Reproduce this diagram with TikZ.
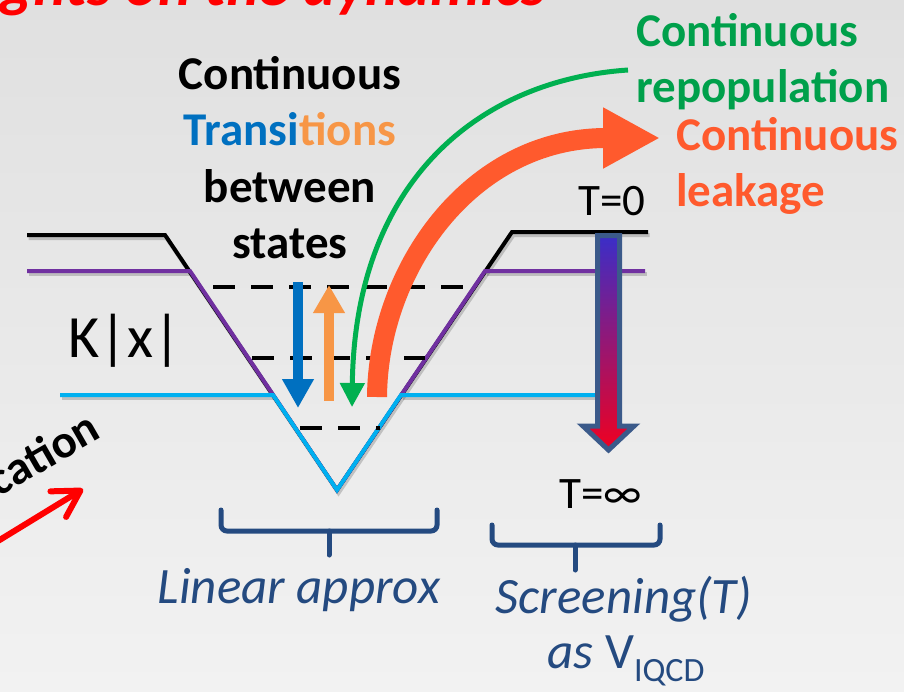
\documentclass[tikz,border=0pt]{standalone}
\usepackage{fontspec}
\setmainfont{Carlito}
\usetikzlibrary{arrows.meta}
\definecolor{wellpurple}{RGB}{112,48,160}
\definecolor{wellcyan}{RGB}{0,176,240}
\definecolor{downblue}{RGB}{0,112,192}
\definecolor{uporange}{RGB}{247,150,70}
\definecolor{repopgreen}{RGB}{0,176,80}
\definecolor{repoptext}{RGB}{0,160,75}
\definecolor{leakred}{RGB}{255,90,45}
\definecolor{notenavy}{RGB}{36,74,128}
\definecolor{screenedge}{RGB}{59,90,138}
\definecolor{screentop}{RGB}{58,46,200}
\definecolor{screenmid}{RGB}{192,0,154}
\definecolor{screenbot}{RGB}{240,0,32}
\definecolor{bgtop}{RGB}{224,224,224}
\definecolor{bgbot}{RGB}{242,242,242}

\begin{document}
\begin{tikzpicture}[
  x=1pt, y=-1pt,
  every node/.style={inner sep=0pt},
  bigtext/.style={font=\fontsize{47}{56.5}\selectfont\bfseries},
  plaintext/.style={font=\fontsize{45}{54}\selectfont},
  notetext/.style={font=\fontsize{51}{55}\selectfont\itshape,text=notenavy},
  well/.style={line width=4pt,line join=miter},
  wellshadow/.style={line width=4pt,line join=miter,black,opacity=0.18,shift={(1.5,3)}},
  statedash/.style={line width=4pt,dash pattern=on 22pt off 16pt},
  bracket/.style={draw=notenavy,line width=5pt,rounded corners=6pt,line cap=round},
]
  \useasboundingbox (0,0) rectangle (904,691);
  \clip (0,0) rectangle (904,691);
  % Background
  \shade[top color=bgtop,bottom color=bgbot] (0,0) rectangle (904,691);

  % Title (cut by the frame)
  \node[anchor=base east,font=\fontsize{62}{64}\selectfont\bfseries\itshape,text=red] (title) at (546,5) {ghts on the dynamics};

  % Potential wells
  \draw[wellshadow] (27,235) -- (165,235) -- (337,490) -- (512,232) -- (648,232);
  \draw[wellshadow] (27,271) -- (190,271);
  \draw[wellshadow] (485,271) -- (645,271);
  \draw[wellshadow] (60,395) -- (273,395);
  \draw[wellshadow] (401,395) -- (600,395);
  \draw[well,black] (27,235) -- (165,235) -- (337,490) -- (512,232) -- (648,232);
  \draw[well,wellpurple] (27,271) -- (190,271) -- (337,490) -- (485,271) -- (645,271);
  \draw[well,wellcyan] (60,395) -- (273,395) -- (337,490) -- (401,395) -- (600,395);

  % Bound states
  \draw[statedash] (213,287) -- (468,287);
  \draw[statedash] (252,358) -- (425,358);
  \draw[statedash] (300,428) -- (380,428);

  % Transitions
  \coordinate (downTop) at (298,282);
  \coordinate (downTip) at (298,408);
  \coordinate (upFoot) at (329,401);
  \coordinate (upTip) at (329,285);
  \draw[line width=10pt,downblue,-{Triangle[length=29pt,width=30pt]}] (downTop) -- (downTip);
  \draw[line width=10pt,uporange,-{Triangle[length=28pt,width=30pt]}] (upFoot) -- (upTip);

  % Repopulation and leakage
  \coordinate (repopStart) at (628,70);
  \coordinate (repopTip) at (352,407);
  \coordinate (leakFoot) at (377,397);
  \coordinate (leakTip) at (660,138);
  \draw[line width=5pt,repopgreen,-{Triangle[length=24pt,width=24pt]}]
    (repopStart) .. controls (480,80) and (355,180) .. (repopTip);
  \draw[line width=20pt,leakred,-{Triangle[length=57pt,width=57pt]}]
    (leakFoot) .. controls (378,270) and (470,138) .. (leakTip);

  % Screening arrow
  \shadedraw[draw=screenedge,line width=5pt,line join=miter,
             top color=screentop,middle color=screenmid,bottom color=screenbot]
    (597.5,235.5) -- (619.5,235.5) -- (619.5,426) -- (634,426) -- (608.5,450)
    -- (583,426) -- (597.5,426) -- cycle;

  % Labels
  \node[bigtext,anchor=north,align=center] (transitions) at (290,56)
    {Continuous\\{\color{downblue}Transi}{\color{uporange}tions}\\between\\states};
  \node[bigtext,anchor=north west,align=left,text=repoptext] (repop) at (636,13) {Continuous\\repopulation};
  \node[bigtext,anchor=north west,align=left,text=leakred] (leak) at (676,117) {Continuous\\leakage};
  \node[plaintext,anchor=base] (tzero) at (612,215) {T=0};
  \node[plaintext,anchor=base] (tinf) at (601,508) {T=∞};
  \node[font=\fontsize{60}{62}\selectfont,anchor=base] (kx) at (125,357) {K|x|};

  % Cut-off label and arrow at the left
  \node[bigtext,rotate=30,anchor=base east] (cation) at (103,437) {cation};
  \coordinate (tailOff) at (-20,552);
  \coordinate (cationTip) at (83,489);
  \draw[red,line width=6pt,line cap=round,-{Straight Barb[length=26pt,width=30pt,round]}] (tailOff) -- (cationTip);

  % Brackets
  \draw[bracket] (221,510) -- (221,531) -- (437,531) -- (437,510);
  \draw[bracket] (329,531) -- (329,555);
  \draw[bracket] (492,525) -- (492,545) -- (660,545) -- (660,525);
  \draw[bracket] (575,545) -- (575,570);
  \node[notetext,anchor=base] (linear) at (299,603) {Linear approx};
  \node[notetext,anchor=base] (screening) at (624,613) {Screening(T)};
  \node[notetext,anchor=base] (asv) at (626,668)
    {as {\upshape V}\raisebox{-13pt}{\upshape\fontsize{34}{34}\selectfont IQCD}};
\end{tikzpicture}
\end{document}
